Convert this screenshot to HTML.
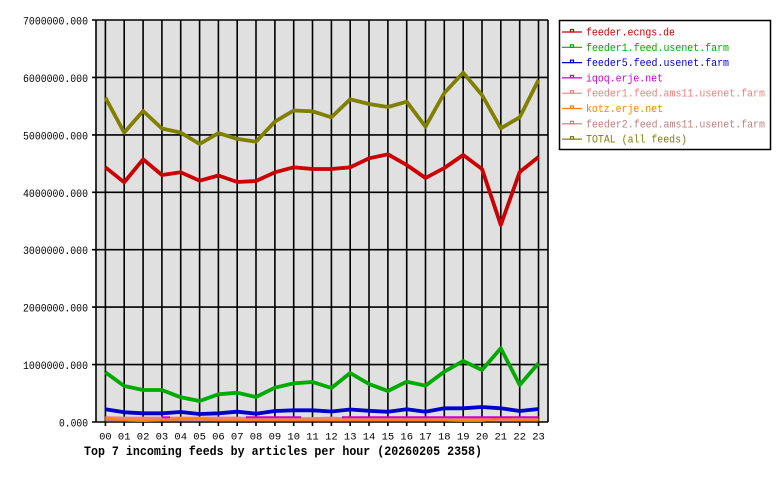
<!DOCTYPE html>
<html><head><meta charset="utf-8"><style>
html,body{margin:0;padding:0;background:#fff;}
svg{display:block;}
text{font-family:"Liberation Mono","DejaVu Sans Mono",monospace;}
</style></head><body>
<svg width="780" height="480" viewBox="0 0 780 480" xmlns="http://www.w3.org/2000/svg">
<rect width="780" height="480" fill="#fff"/>
<rect x="96" y="20" width="452" height="402" fill="#e0e0e0"/>
<g stroke="#000" stroke-width="1.6" fill="none">
<line x1="92" y1="20" x2="548" y2="20"/>
<line x1="92" y1="77.4" x2="548" y2="77.4"/>
<line x1="92" y1="134.9" x2="548" y2="134.9"/>
<line x1="92" y1="192.3" x2="548" y2="192.3"/>
<line x1="92" y1="249.7" x2="548" y2="249.7"/>
<line x1="92" y1="307.1" x2="548" y2="307.1"/>
<line x1="92" y1="364.6" x2="548" y2="364.6"/>
<line x1="92" y1="422" x2="548" y2="422"/>
<line x1="96" y1="20" x2="96" y2="422"/>
<line x1="548" y1="20" x2="548" y2="422"/>
<line x1="105.4" y1="20" x2="105.4" y2="426"/>
<line x1="124.2" y1="20" x2="124.2" y2="426"/>
<line x1="143.1" y1="20" x2="143.1" y2="426"/>
<line x1="161.9" y1="20" x2="161.9" y2="426"/>
<line x1="180.7" y1="20" x2="180.7" y2="426"/>
<line x1="199.6" y1="20" x2="199.6" y2="426"/>
<line x1="218.4" y1="20" x2="218.4" y2="426"/>
<line x1="237.2" y1="20" x2="237.2" y2="426"/>
<line x1="256.0" y1="20" x2="256.0" y2="426"/>
<line x1="274.9" y1="20" x2="274.9" y2="426"/>
<line x1="293.7" y1="20" x2="293.7" y2="426"/>
<line x1="312.5" y1="20" x2="312.5" y2="426"/>
<line x1="331.4" y1="20" x2="331.4" y2="426"/>
<line x1="350.2" y1="20" x2="350.2" y2="426"/>
<line x1="369.0" y1="20" x2="369.0" y2="426"/>
<line x1="387.9" y1="20" x2="387.9" y2="426"/>
<line x1="406.7" y1="20" x2="406.7" y2="426"/>
<line x1="425.5" y1="20" x2="425.5" y2="426"/>
<line x1="444.3" y1="20" x2="444.3" y2="426"/>
<line x1="463.2" y1="20" x2="463.2" y2="426"/>
<line x1="482.0" y1="20" x2="482.0" y2="426"/>
<line x1="500.8" y1="20" x2="500.8" y2="426"/>
<line x1="519.7" y1="20" x2="519.7" y2="426"/>
<line x1="538.5" y1="20" x2="538.5" y2="426"/>
</g>

<g fill="none" stroke-width="3.8" stroke-linejoin="round" stroke-linecap="butt">
<polyline stroke="#c08080" points="105.4,419.5 124.2,419.5 143.1,419.5 161.9,419.5 180.7,419.5 199.6,419.5 218.4,419.5 237.2,419.5 256.0,419.5 274.9,419.5 293.7,419.5 312.5,419.5 331.4,419.5 350.2,419.5 369.0,419.5 387.9,419.5 406.7,419.5 425.5,419.5 444.3,419.5 463.2,419.5 482.0,419.5 500.8,419.5 519.7,419.5 538.5,419.5"/>
<polyline stroke="#f08080" points="105.4,418 124.2,418.5 143.1,418.5 161.9,418.5 180.7,418.5 199.6,418.5 218.4,418.5 237.2,418.5 256.0,419 274.9,419 293.7,419 312.5,419 331.4,418.5 350.2,419.5 369.0,419.5 387.9,419.5 406.7,419.5 425.5,419.5 444.3,419.5 463.2,419.5 482.0,419.5 500.8,419.5 519.7,419.5 538.5,419.5"/>
<polyline stroke="#ff8000" stroke-width="2" points="105.4,418 124.2,420.5 143.1,421 161.9,420.5 180.7,419 199.6,418.5 218.4,420.5 237.2,420.5 256.0,420.5 274.9,420.5 293.7,420.5 312.5,420.5 331.4,420.5 350.2,420.5 369.0,420.5 387.9,420.5 406.7,420.5 425.5,420.5 444.3,420.5 463.2,421 482.0,421 500.8,418.5 519.7,420.5 538.5,420.5"/>
<polyline stroke="#cc00cc" stroke-width="2" points="161.9,417.3 170,417.3"/>
<polyline stroke="#cc00cc" stroke-width="2" points="246,417.3 301,417.3"/>
<polyline stroke="#cc00cc" stroke-width="2" points="342,417.3 538.5,417.3"/>
<polyline stroke="#0000cc" points="105.4,409.3 124.2,412.3 143.1,413.3 161.9,413.3 180.7,412 199.6,414 218.4,413.3 237.2,411.7 256.0,413.7 274.9,411 293.7,410.3 312.5,410.3 331.4,411.5 350.2,409.5 369.0,410.8 387.9,411.8 406.7,409.3 425.5,411.7 444.3,408.3 463.2,408.3 482.0,407 500.8,408.3 519.7,411 538.5,409"/>
<polyline stroke="#00aa00" points="105.4,372.3 124.2,386 143.1,390 161.9,390 180.7,397.3 199.6,401 218.4,394.3 237.2,392.7 256.0,397 274.9,387.7 293.7,383.3 312.5,382 331.4,388 350.2,373 369.0,384 387.9,391 406.7,381.7 425.5,385.7 444.3,371.7 463.2,361 482.0,370 500.8,348.3 519.7,385 538.5,363.3"/>
<polyline stroke="#cc0000" points="105.4,167.3 124.2,182.3 143.1,159.3 161.9,175 180.7,172.3 199.6,180.7 218.4,175.5 237.2,182 256.0,181 274.9,172.3 293.7,167.3 312.5,169 331.4,169 350.2,167.3 369.0,158.3 387.9,154.3 406.7,165 425.5,178 444.3,168 463.2,155 482.0,169 500.8,225 519.7,172 538.5,157"/>
<polyline stroke="#808000" points="105.4,97.7 124.2,132.6 143.1,111 161.9,128.5 180.7,132.6 199.6,144 218.4,133.1 237.2,138.9 256.0,141.7 274.9,121.6 293.7,110.5 312.5,111.3 331.4,117.3 350.2,99.3 369.0,104 387.9,107 406.7,101.7 425.5,126.7 444.3,93 463.2,72.7 482.0,95 500.8,128.3 519.7,117.3 538.5,80"/>
</g>

<g font-size="11" fill="#000" text-anchor="end">
<text x="88" y="24.5" textLength="65" lengthAdjust="spacingAndGlyphs">7000000.000</text>
<text x="88" y="81.9" textLength="65" lengthAdjust="spacingAndGlyphs">6000000.000</text>
<text x="88" y="139.4" textLength="65" lengthAdjust="spacingAndGlyphs">5000000.000</text>
<text x="88" y="196.8" textLength="65" lengthAdjust="spacingAndGlyphs">4000000.000</text>
<text x="88" y="254.2" textLength="65" lengthAdjust="spacingAndGlyphs">3000000.000</text>
<text x="88" y="311.6" textLength="65" lengthAdjust="spacingAndGlyphs">2000000.000</text>
<text x="88" y="369.1" textLength="65" lengthAdjust="spacingAndGlyphs">1000000.000</text>
<text x="88" y="426.5" textLength="29" lengthAdjust="spacingAndGlyphs">0.000</text>
</g>

<g font-size="10.5" fill="#000" text-anchor="middle">
<text x="105.4" y="439.5">00</text>
<text x="124.2" y="439.5">01</text>
<text x="143.1" y="439.5">02</text>
<text x="161.9" y="439.5">03</text>
<text x="180.7" y="439.5">04</text>
<text x="199.6" y="439.5">05</text>
<text x="218.4" y="439.5">06</text>
<text x="237.2" y="439.5">07</text>
<text x="256.0" y="439.5">08</text>
<text x="274.9" y="439.5">09</text>
<text x="293.7" y="439.5">10</text>
<text x="312.5" y="439.5">11</text>
<text x="331.4" y="439.5">12</text>
<text x="350.2" y="439.5">13</text>
<text x="369.0" y="439.5">14</text>
<text x="387.9" y="439.5">15</text>
<text x="406.7" y="439.5">16</text>
<text x="425.5" y="439.5">17</text>
<text x="444.3" y="439.5">18</text>
<text x="463.2" y="439.5">19</text>
<text x="482.0" y="439.5">20</text>
<text x="500.8" y="439.5">21</text>
<text x="519.7" y="439.5">22</text>
<text x="538.5" y="439.5">23</text>
</g>

<text x="84" y="455" font-size="12.5" font-weight="bold" fill="#000" textLength="398" lengthAdjust="spacingAndGlyphs">Top 7 incoming feeds by articles per hour (20260205 2358)</text>

<rect x="559.5" y="20.5" width="211" height="129" fill="#fff" stroke="#000" stroke-width="1.5"/>
<g stroke-width="1.2" fill="none">
<line x1="562" y1="32" x2="582" y2="32" stroke="#cc0000"/><rect x="570.5" y="29.5" width="3" height="2.5" stroke="#cc0000"/>
<line x1="562" y1="47.3" x2="582" y2="47.3" stroke="#00aa00"/><rect x="570.5" y="44.8" width="3" height="2.5" stroke="#00aa00"/>
<line x1="562" y1="62.6" x2="582" y2="62.6" stroke="#0000cc"/><rect x="570.5" y="60.1" width="3" height="2.5" stroke="#0000cc"/>
<line x1="562" y1="77.9" x2="582" y2="77.9" stroke="#cc00cc"/><rect x="570.5" y="75.4" width="3" height="2.5" stroke="#cc00cc"/>
<line x1="562" y1="93.2" x2="582" y2="93.2" stroke="#f08080"/><rect x="570.5" y="90.7" width="3" height="2.5" stroke="#f08080"/>
<line x1="562" y1="108.5" x2="582" y2="108.5" stroke="#ff8000"/><rect x="570.5" y="106" width="3" height="2.5" stroke="#ff8000"/>
<line x1="562" y1="123.8" x2="582" y2="123.8" stroke="#c08080"/><rect x="570.5" y="121.3" width="3" height="2.5" stroke="#c08080"/>
<line x1="562" y1="139.1" x2="582" y2="139.1" stroke="#808000"/><rect x="570.5" y="136.6" width="3" height="2.5" stroke="#808000"/>
</g>
<g font-size="11">
<text x="586" y="35.5" fill="#cc0000" textLength="89" lengthAdjust="spacingAndGlyphs">feeder.ecngs.de</text>
<text x="586" y="50.8" fill="#00aa00" textLength="143" lengthAdjust="spacingAndGlyphs">feeder1.feed.usenet.farm</text>
<text x="586" y="66.1" fill="#0000cc" textLength="143" lengthAdjust="spacingAndGlyphs">feeder5.feed.usenet.farm</text>
<text x="586" y="81.4" fill="#cc00cc" textLength="77" lengthAdjust="spacingAndGlyphs">iqoq.erje.net</text>
<text x="586" y="96.7" fill="#f08080" textLength="179" lengthAdjust="spacingAndGlyphs">feeder1.feed.ams11.usenet.farm</text>
<text x="586" y="112" fill="#ff8000" textLength="77" lengthAdjust="spacingAndGlyphs">kotz.erje.net</text>
<text x="586" y="127.3" fill="#c08080" textLength="179" lengthAdjust="spacingAndGlyphs">feeder2.feed.ams11.usenet.farm</text>
<text x="586" y="142.6" fill="#808000" textLength="101" lengthAdjust="spacingAndGlyphs">TOTAL (all feeds)</text>
</g>
</svg>
</body></html>
